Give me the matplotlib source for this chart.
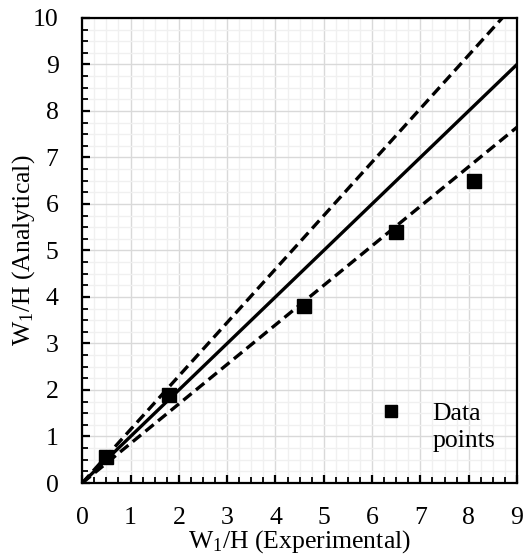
import matplotlib
matplotlib.use("Agg")
import matplotlib.pyplot as plt
from matplotlib.ticker import MultipleLocator
import numpy as np

plt.rcParams['font.family'] = ['Liberation Serif', 'DejaVu Serif']
plt.rcParams['mathtext.fontset'] = 'custom'
plt.rcParams['mathtext.rm'] = 'Liberation Serif'
plt.rcParams['mathtext.it'] = 'Liberation Serif:italic'

# Data
exp_vals = [0.5, 1.8, 4.6, 6.5, 8.1]
ana_vals = [0.55, 1.9, 3.8, 5.4, 6.5]
line_x = [0, 10]
slope_solid = 1.0
slope_upper = 1.15
slope_lower = 0.85
x_ticks = list(range(0, 10))
y_ticks = list(range(0, 11))

FS = 18.5

fig = plt.figure(figsize=(5.27, 5.6), dpi=100)
ax = fig.add_axes([0.156, 0.1375, 0.825, 0.8305])

ax.set_xlim(0, 9)
ax.set_ylim(0, 10)
ax.xaxis.set_minor_locator(MultipleLocator(0.25))
ax.yaxis.set_minor_locator(MultipleLocator(0.25))
ax.set_xticks(x_ticks)
ax.set_yticks(y_ticks)
ax.grid(which='major', color='#d9d9d9', linewidth=1.0, zorder=0)
ax.grid(which='minor', color='#f0f0f0', linewidth=1.0, zorder=0)
ax.set_axisbelow(True)

lx = np.array(line_x, dtype=float)
ax.plot(exp_vals, ana_vals, 's', color='black', markersize=9.5, zorder=4)
ax.plot(lx, lx * slope_solid, color='black', lw=2.4, zorder=3)
ax.plot(lx, lx * slope_upper, color='black', lw=2.4, ls=(0, (3.2, 1.7)), zorder=3)
ax.plot(lx, lx * slope_lower, color='black', lw=2.4, ls=(0, (3.2, 1.7)), zorder=3)

# legend-like annotation
ax.plot([0.71], [0.155], 's', color='black', markersize=9, transform=ax.transAxes, clip_on=False)
ax.text(0.806, 0.172, "Data\npoints", transform=ax.transAxes, fontsize=FS,
        va='top', ha='left', linespacing=1.3)

for s in ax.spines.values():
    s.set_linewidth(1.6)
    s.set_color('black')

ax.tick_params(which='both', direction='in', labelsize=FS, color='black')
ax.tick_params(which='major', length=6, width=1.6)
ax.tick_params(which='minor', length=4, width=1.3)
ax.tick_params(axis='y', which='major', pad=17)
ax.tick_params(axis='x', which='major', pad=17)

ax.set_xlabel("W$_1$/H (Experimental)", fontsize=FS, labelpad=0)
ax.set_ylabel("W$_1$/H (Analytical)", fontsize=FS, labelpad=-3)

fig.savefig("out.png", dpi=100)
